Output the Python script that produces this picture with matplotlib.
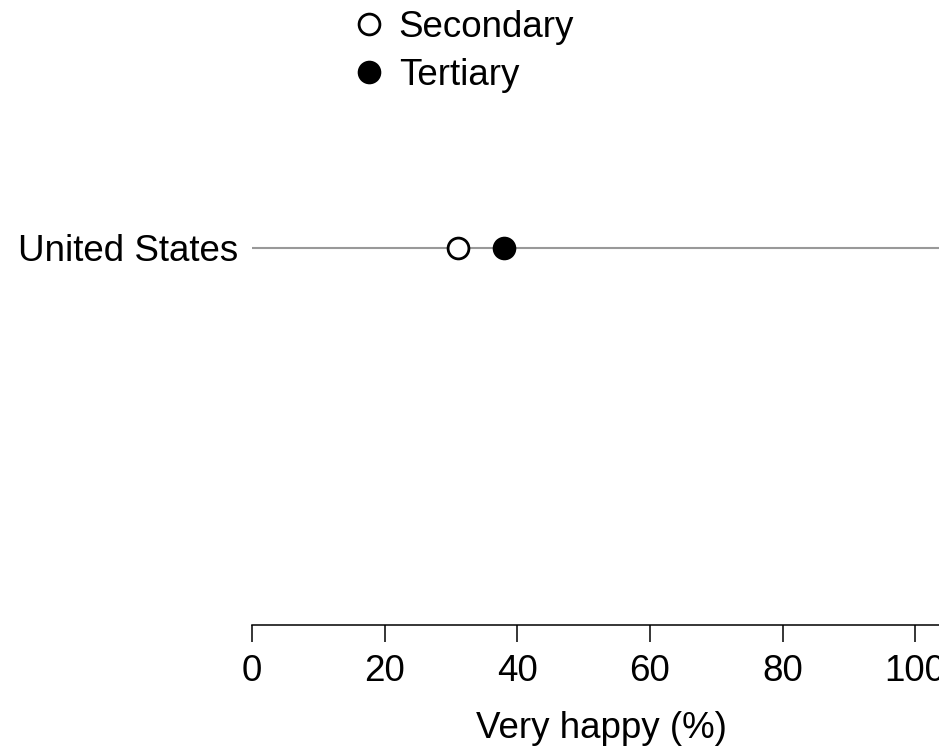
import matplotlib
matplotlib.use("Agg")
import matplotlib.pyplot as plt

plt.rcParams['font.family'] = ['Liberation Sans', 'DejaVu Sans']

countries = ["United States"]
secondary = [31]
tertiary = [38]
xticks = [0, 20, 40, 60, 80, 100]

fig = plt.figure(figsize=(9.39, 7.47), dpi=100)
ax = fig.add_axes([252 / 939, 122.5 / 747, 1 - 252 / 939, 524.5 / 747])

ypos = list(range(len(countries)))
for y in ypos:
    ax.axhline(y, color='#999999', lw=1.5, zorder=1)

sec, = ax.plot(secondary, ypos, 'o', ms=15, mfc='white', mec='black', mew=2,
               ls='none', clip_on=False, zorder=3, label='Secondary')
ter, = ax.plot(tertiary, ypos, 'o', ms=15.5, mfc='black', mec='black', mew=1.5,
               ls='none', clip_on=False, zorder=3, label='Tertiary')

ax.set_xlim(0, 103.6)
ax.set_ylim(-2.55, 1.0)
ax.set_xticks(xticks)
ax.set_xticklabels([str(v) for v in xticks])
ax.set_yticks(ypos)
ax.set_yticklabels(countries)

for s in ['top', 'right', 'left']:
    ax.spines[s].set_visible(False)
ax.spines['bottom'].set_linewidth(1.1)
ax.tick_params(axis='x', length=12, width=1.1, pad=9, labelsize=26.5)
ax.tick_params(axis='y', length=0, pad=10, labelsize=26.5)
ax.set_xlabel("Very happy (%)", fontsize=26.5)
ax.xaxis.set_label_coords(0.509, -0.165)

fig.legend(handles=[sec, ter], loc='upper left',
           bbox_to_anchor=(352 / 939, 1 - 6 / 747), frameon=False, fontsize=26.5,
           handlelength=0.75, handletextpad=0.42, labelspacing=0.36,
           borderaxespad=0.0, borderpad=0.1)

fig.savefig("out.png", dpi=100)
